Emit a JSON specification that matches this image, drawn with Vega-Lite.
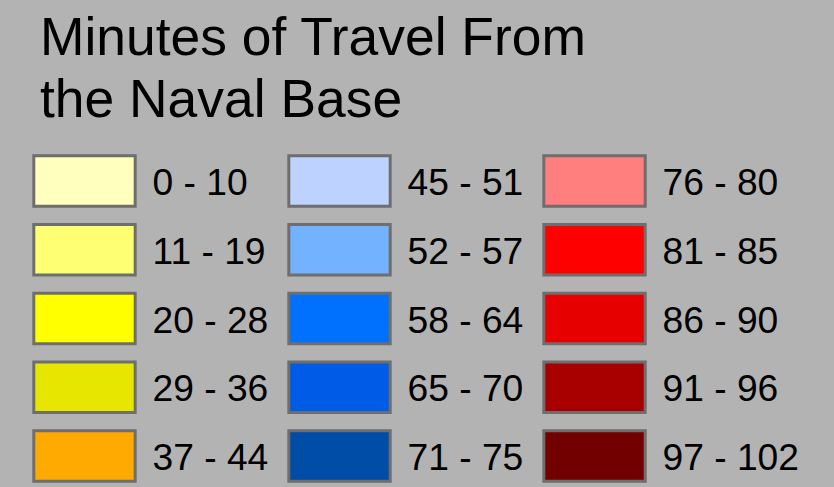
{
  "$schema": "https://vega.github.io/schema/vega-lite/v6.json",
  "width": 834,
  "height": 487,
  "padding": 0,
  "autosize": {"type": "none"},
  "background": "#b3b3b3",
  "config": {"view": {"stroke": null}, "font": "Liberation Sans"},
  "title": {
    "text": ["Minutes of Travel From", "the Naval Base"],
    "orient": "top",
    "anchor": "start",
    "frame": "group",
    "align": "left",
    "baseline": "top",
    "offset": -112.5,
    "dx": 40,
    "dy": 15.6,
    "fontSize": 53.4,
    "fontWeight": "normal",
    "font": "Liberation Sans",
    "color": "#000000",
    "lineHeight": 61.6
  },
  "data": {
    "values": [
      {"label": "0 - 10", "col": 0, "row": 0},
      {"label": "11 - 19", "col": 0, "row": 1},
      {"label": "20 - 28", "col": 0, "row": 2},
      {"label": "29 - 36", "col": 0, "row": 3},
      {"label": "37 - 44", "col": 0, "row": 4},
      {"label": "45 - 51", "col": 1, "row": 0},
      {"label": "52 - 57", "col": 1, "row": 1},
      {"label": "58 - 64", "col": 1, "row": 2},
      {"label": "65 - 70", "col": 1, "row": 3},
      {"label": "71 - 75", "col": 1, "row": 4},
      {"label": "76 - 80", "col": 2, "row": 0},
      {"label": "81 - 85", "col": 2, "row": 1},
      {"label": "86 - 90", "col": 2, "row": 2},
      {"label": "91 - 96", "col": 2, "row": 3},
      {"label": "97 - 102", "col": 2, "row": 4}
    ]
  },
  "encoding": {
    "x": {
      "field": "col",
      "type": "ordinal",
      "axis": null,
      "scale": {"type": "band", "domain": [0, 1, 2], "range": [33.8, 645.2], "paddingInner": 0.6024, "paddingOuter": 0}
    },
    "y": {
      "field": "row",
      "type": "ordinal",
      "axis": null,
      "scale": {"type": "band", "domain": [0, 1, 2, 3, 4], "range": [155.8, 481.2], "paddingInner": 0.267, "paddingOuter": 0}
    }
  },
  "layer": [
    {
      "mark": {"type": "rect", "stroke": "#6e6e6e", "strokeWidth": 3},
      "encoding": {
        "color": {
          "field": "label",
          "type": "nominal",
          "legend": null,
          "scale": {
            "domain": ["0 - 10", "11 - 19", "20 - 28", "29 - 36", "37 - 44", "45 - 51", "52 - 57", "58 - 64", "65 - 70", "71 - 75", "76 - 80", "81 - 85", "86 - 90", "91 - 96", "97 - 102"],
            "range": ["#ffffbe", "#ffff73", "#ffff00", "#e6e600", "#ffaa00", "#bed2ff", "#73b2ff", "#0070ff", "#005ce6", "#004da8", "#ff7f7f", "#ff0000", "#e60000", "#a80000", "#730000"]
          }
        }
      }
    },
    {
      "mark": {"type": "text", "align": "left", "baseline": "alphabetic", "dx": 17.3, "dy": 14, "fontSize": 37.2, "font": "Liberation Sans", "color": "#000000"},
      "encoding": {
        "x": {"field": "col", "type": "ordinal", "bandPosition": 1},
        "text": {"field": "label"}
      }
    }
  ]
}
